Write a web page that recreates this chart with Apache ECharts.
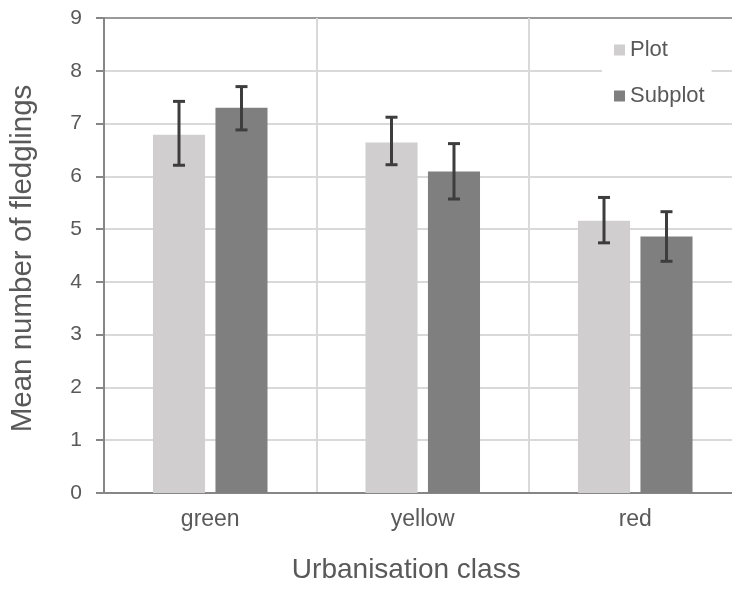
<!DOCTYPE html>
<html>
<head>
<meta charset="utf-8">
<script src="https://cdn.jsdelivr.net/npm/echarts@6/dist/echarts.min.js"></script>
<style>html,body{margin:0;padding:0;background:#fff;overflow:hidden;width:732px;height:594px;}#c{width:742px;height:594px;}</style>
</head>
<body>
<div id="c"></div>
<script>
var categories = ['green', 'yellow', 'red'];
var seriesNames = ['Plot', 'Subplot'];
var plotMeans = [6.79, 6.64, 5.16];
var plotLow = [6.21, 6.22, 4.74];
var plotHigh = [7.42, 7.12, 5.60];
var subplotMeans = [7.30, 6.09, 4.86];
var subplotLow = [6.88, 5.57, 4.39];
var subplotHigh = [7.70, 6.62, 5.33];
var yTicks = [0, 1, 2, 3, 4, 5, 6, 7, 8, 9];

var FONT = 'Liberation Sans';
var TXT = '#595959';
var AXIS = '#868686';
var BAR_W = 0.245, BAR_GAP = 0.2;

function errData(low, high) {
  return categories.map(function (c, i) { return [i, low[i], high[i]]; });
}
function errSeries(low, high, side) {
  return {
    type: 'custom',
    z: 10,
    silent: true,
    data: errData(low, high),
    encode: { x: 0, y: [1, 2] },
    renderItem: function (params, api) {
      var idx = api.value(0);
      var band = api.size([1, 0])[0];
      var bw = band * BAR_W;
      var off = side * (bw + bw * BAR_GAP) / 2;
      var lo = api.coord([idx, api.value(1)]);
      var hi = api.coord([idx, api.value(2)]);
      var x = lo[0] + off;
      var cap = 6;
      var st = { stroke: '#3d3d3d', lineWidth: 3 };
      return {
        type: 'group',
        children: [
          { type: 'line', shape: { x1: x, y1: lo[1], x2: x, y2: hi[1] }, style: st },
          { type: 'line', shape: { x1: x - cap, y1: hi[1], x2: x + cap, y2: hi[1] }, style: st },
          { type: 'line', shape: { x1: x - cap, y1: lo[1], x2: x + cap, y2: lo[1] }, style: st }
        ]
      };
    }
  };
}

var splitColors = yTicks.map(function (t, i) { return i === yTicks.length - 1 ? '#9a9a9a' : '#d9d9d9'; });

var chart = echarts.init(document.getElementById('c'), null, { renderer: 'canvas' });
chart.setOption({
  animation: false,
  backgroundColor: '#ffffff',
  textStyle: { fontFamily: FONT },
  grid: { left: 104, top: 18, right: 0.5, bottom: 101, containLabel: false },
  legend: {
    data: seriesNames,
    orient: 'vertical',
    left: 602,
    top: 28,
    backgroundColor: '#ffffff',
    padding: [10, 7, 10, 12],
    itemWidth: 11,
    itemHeight: 11,
    itemGap: 22,
    icon: 'rect',
    textStyle: { fontFamily: FONT, fontSize: 22, color: TXT, lineHeight: 24 }
  },
  xAxis: {
    type: 'category',
    data: categories,
    name: 'Urbanisation class',
    nameLocation: 'middle',
    nameGap: 63,
    nameTextStyle: { fontFamily: FONT, fontSize: 28, color: TXT, padding: [0, 33, 0, 0] },
    axisLine: { lineStyle: { color: AXIS, width: 2 } },
    axisTick: { show: false },
    axisLabel: { fontFamily: FONT, fontSize: 23, color: TXT, margin: 15 },
    splitLine: { show: true, lineStyle: { color: '#d9d9d9', width: 2 } }
  },
  yAxis: {
    type: 'value',
    min: 0,
    max: 9,
    interval: 1,
    name: 'Mean number of fledglings',
    nameLocation: 'middle',
    nameGap: 66,
    nameTextStyle: { fontFamily: FONT, fontSize: 29.5, color: TXT, padding: [0, 6, 0, 0] },
    axisLine: { show: true, lineStyle: { color: AXIS, width: 2 } },
    axisTick: { show: true, length: 8, inside: false, lineStyle: { color: AXIS, width: 2 } },
    axisLabel: { fontFamily: FONT, fontSize: 21, color: TXT, margin: 22 },
    splitLine: { show: true, lineStyle: { color: splitColors, width: 2 } }
  },
  series: [
    {
      name: seriesNames[0],
      type: 'bar',
      data: plotMeans,
      barWidth: (BAR_W * 100) + '%',
      barGap: (BAR_GAP * 100) + '%',
      itemStyle: { color: '#d0cece' }
    },
    {
      name: seriesNames[1],
      type: 'bar',
      data: subplotMeans,
      barWidth: (BAR_W * 100) + '%',
      barGap: (BAR_GAP * 100) + '%',
      itemStyle: { color: '#7f7f7f' }
    },
    errSeries(plotLow, plotHigh, -1),
    errSeries(subplotLow, subplotHigh, 1)
  ]
});
</script>
</body>
</html>
